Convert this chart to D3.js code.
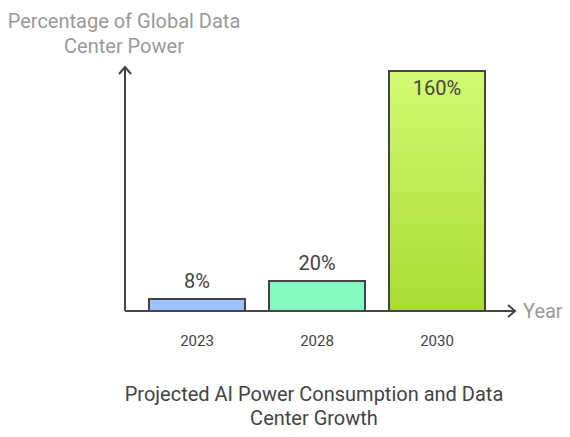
<!DOCTYPE html>
<html>
<head>
<meta charset="utf-8">
<script src="https://cdn.jsdelivr.net/npm/d3@7"></script>
<style>
  body { margin: 0; background: #fff; }
  text { font-family: Roboto, "Noto Sans", sans-serif; }
</style>
</head>
<body>
<svg id="svg" width="570" height="437"></svg>
<script>
const years = ['2023', '2028', '2030'];
const values = [8, 20, 160];
const valueLabels = ['8%', '20%', '160%'];
const fills = ['#9ec2fc', '#85f9c1', 'url(#greenGrad)'];

const svg = d3.select('#svg');
const baseY = 311, topY = 71, axisX = 125;

const defs = svg.append('defs');
const grad = defs.append('linearGradient')
  .attr('id', 'greenGrad')
  .attr('x1', 0).attr('y1', 0).attr('x2', 0).attr('y2', 1);
grad.append('stop').attr('offset', '0%').attr('stop-color', '#d3fa72');
grad.append('stop').attr('offset', '100%').attr('stop-color', '#a9dc33');

const xScale = d3.scaleBand()
  .domain(years)
  .range([137, 497])
  .paddingInner(0.2)
  .paddingOuter(0.1);

const yScale = d3.scaleLinear()
  .domain([0, 160])
  .range([baseY, topY]);

// bars
svg.selectAll('.bar')
  .data(values)
  .join('rect')
  .attr('class', 'bar')
  .attr('x', (d, i) => xScale(years[i]))
  .attr('y', d => yScale(d))
  .attr('width', xScale.bandwidth())
  .attr('height', d => baseY - yScale(d))
  .attr('fill', (d, i) => fills[i])
  .attr('stroke', '#444')
  .attr('stroke-width', 2);

// value labels
svg.selectAll('.val')
  .data(values)
  .join('text')
  .attr('class', 'val')
  .attr('x', (d, i) => xScale(years[i]) + xScale.bandwidth() / 2)
  .attr('y', d => d > 100 ? yScale(d) + 24 : yScale(d) - 11)
  .attr('text-anchor', 'middle')
  .attr('fill', '#444')
  .style('font-size', '20px')
  .text((d, i) => valueLabels[i]);

// axes
const axisG = svg.append('g')
  .attr('fill', 'none')
  .attr('stroke', '#444')
  .attr('stroke-width', 2);
axisG.append('path').attr('d', `M${axisX},${baseY}V68`);
axisG.append('path').attr('d', `M${axisX - 6},74L${axisX},67L${axisX + 6},74`);
axisG.append('path').attr('d', `M${axisX},${baseY}H514`);
axisG.append('path').attr('d', `M508,305L515,${baseY}L508,317`);

const xAxis = d3.axisBottom(xScale).tickSize(0).tickPadding(24);
const xAxisG = svg.append('g')
  .attr('transform', `translate(0,${baseY})`)
  .call(xAxis);
xAxisG.select('path.domain').remove();
xAxisG.selectAll('text')
  .attr('fill', '#444')
  .style('font-size', '15px')
  .style('font-family', 'Roboto, sans-serif');

svg.append('text')
  .attr('x', 523).attr('y', 318)
  .attr('fill', '#999')
  .style('font-size', '20px')
  .text('Year');

const yTitle = svg.append('text')
  .attr('text-anchor', 'middle')
  .attr('fill', '#999')
  .style('font-size', '20px');
yTitle.append('tspan').attr('x', 124).attr('y', 28).text('Percentage of Global Data');
yTitle.append('tspan').attr('x', 124).attr('y', 53).text('Center Power');

const title = svg.append('text')
  .attr('text-anchor', 'middle')
  .attr('fill', '#444')
  .style('font-size', '20px');
title.append('tspan').attr('x', 314).attr('y', 401).text('Projected AI Power Consumption and Data');
title.append('tspan').attr('x', 314).attr('y', 425).text('Center Growth');
</script>
</body>
</html>
